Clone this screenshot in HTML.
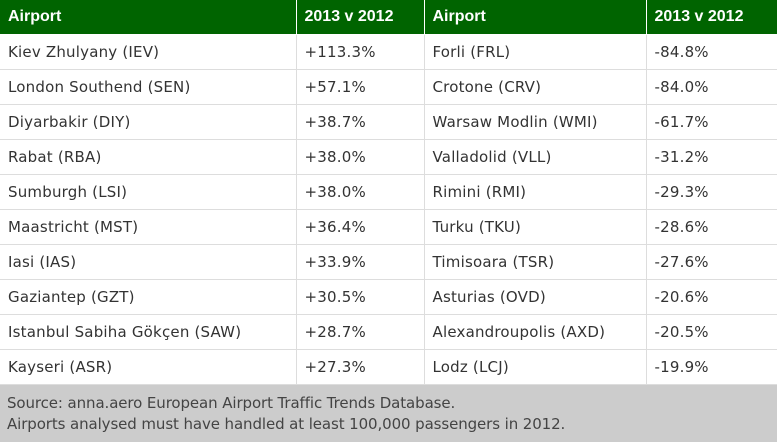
<!DOCTYPE html>
<html><head><meta charset="utf-8"><style>
body{margin:0;width:777px;height:442px;background:#fff;font-family:"DejaVu Sans",sans-serif;overflow:hidden}
table{border-collapse:collapse;position:absolute;left:0;top:0;width:777px;table-layout:fixed}
td,th{height:34px;padding:0 0 0 8px;font-size:15px;letter-spacing:0.2px;color:#333;border:1px solid #ddd;text-align:left;white-space:nowrap;overflow:hidden}
th{background:#006400;color:#fff;font-weight:bold;border-color:#fff;border-top:none;font-family:"Liberation Sans",sans-serif;font-size:16px;letter-spacing:0}
td:first-child,th:first-child{border-left:none}
.f{position:absolute;left:0;top:385px;width:777px;height:57px;background:#ccc;color:#444;font-size:15px;line-height:21px;letter-spacing:-0.1px;padding:8px 0 0 7px;box-sizing:border-box;white-space:nowrap}
</style></head><body>
<table>
<colgroup><col style="width:296px"><col style="width:128px"><col style="width:222px"><col style="width:131px"></colgroup>
<tr><th>Airport</th><th>2013 v 2012</th><th>Airport</th><th>2013 v 2012</th></tr>
<tr><td>Kiev Zhulyany (IEV)</td><td>+113.3%</td><td>Forli (FRL)</td><td>-84.8%</td></tr>
<tr><td>London Southend (SEN)</td><td>+57.1%</td><td>Crotone (CRV)</td><td>-84.0%</td></tr>
<tr><td>Diyarbakir (DIY)</td><td>+38.7%</td><td>Warsaw Modlin (WMI)</td><td>-61.7%</td></tr>
<tr><td>Rabat (RBA)</td><td>+38.0%</td><td>Valladolid (VLL)</td><td>-31.2%</td></tr>
<tr><td>Sumburgh (LSI)</td><td>+38.0%</td><td>Rimini (RMI)</td><td>-29.3%</td></tr>
<tr><td>Maastricht (MST)</td><td>+36.4%</td><td>Turku (TKU)</td><td>-28.6%</td></tr>
<tr><td>Iasi (IAS)</td><td>+33.9%</td><td>Timisoara (TSR)</td><td>-27.6%</td></tr>
<tr><td>Gaziantep (GZT)</td><td>+30.5%</td><td>Asturias (OVD)</td><td>-20.6%</td></tr>
<tr><td>Istanbul Sabiha Gökçen (SAW)</td><td>+28.7%</td><td>Alexandroupolis (AXD)</td><td>-20.5%</td></tr>
<tr><td>Kayseri (ASR)</td><td>+27.3%</td><td>Lodz (LCJ)</td><td>-19.9%</td></tr>
</table>
<div class="f">Source: anna.aero European Airport Traffic Trends Database.<br>Airports analysed must have handled at least 100,000 passengers in 2012.</div>
</body></html>
